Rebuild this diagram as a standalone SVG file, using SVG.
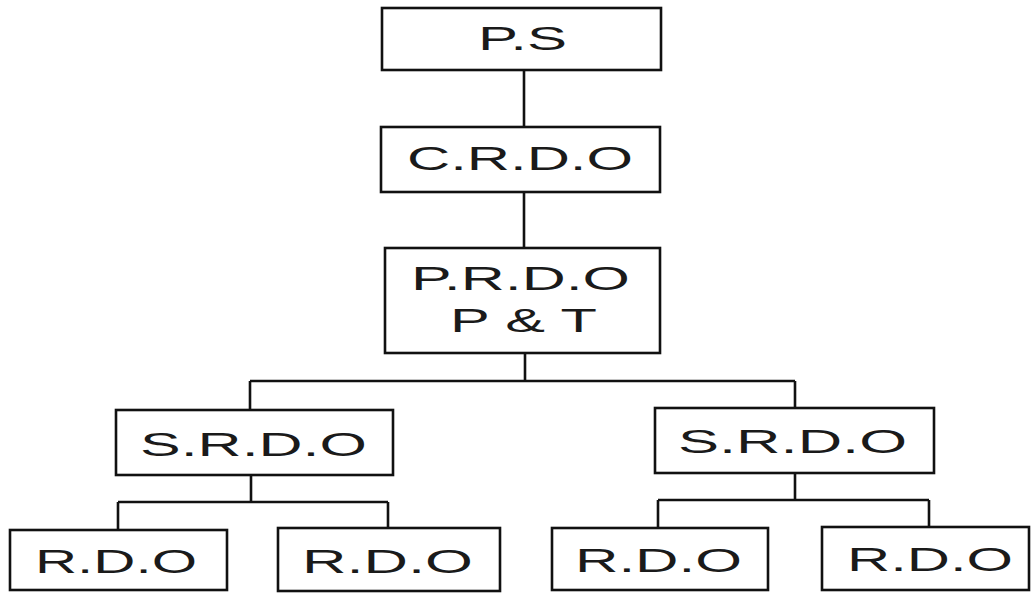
<svg xmlns="http://www.w3.org/2000/svg" width="1034" height="596" viewBox="0 0 1034 596">
<style>
.box{fill:#fff;stroke:#111;stroke-width:2.6}
.ln{fill:none;stroke:#111;stroke-width:2.6}
.t{font-family:"Liberation Sans",Arial,sans-serif;font-size:34px;fill:#1a1a1a}
</style>
<rect width="1034" height="596" fill="#fff"/>
<g id="connectors">
<path class="ln" d="M524 70V127M524 192V248M525 353V381M250 381H795M250 381V410M795 381V408M251 475V502M118 502H388M118 502V530M388 502V528M795 473V500M658 500H929M658 500V528M929 500V527"/>
</g>
<g id="ps"><rect class="box" x="382" y="8" width="279" height="62"/><text class="t" x="478" y="50" textLength="89" lengthAdjust="spacingAndGlyphs">P.S</text></g>
<g id="crdo"><rect class="box" x="381" y="127" width="279" height="65"/><text class="t" x="407" y="170" textLength="226" lengthAdjust="spacingAndGlyphs">C.R.D.O</text></g>
<g id="prdo"><rect class="box" x="385" y="248" width="275" height="105"/><text class="t" x="411" y="290" textLength="219" lengthAdjust="spacingAndGlyphs">P.R.D.O</text><text class="t" x="450" y="332" textLength="147" lengthAdjust="spacingAndGlyphs">P &amp; T</text></g>
<g id="srdo1"><rect class="box" x="116" y="410" width="277" height="65"/><text class="t" x="140" y="456" textLength="227" lengthAdjust="spacingAndGlyphs">S.R.D.O</text></g>
<g id="srdo2"><rect class="box" x="655" y="408" width="279" height="65"/><text class="t" x="678" y="453" textLength="229" lengthAdjust="spacingAndGlyphs">S.R.D.O</text></g>
<g id="rdo1"><rect class="box" x="10" y="530" width="217" height="60"/><text class="t" x="35" y="573" textLength="162" lengthAdjust="spacingAndGlyphs">R.D.O</text></g>
<g id="rdo2"><rect class="box" x="278" y="528" width="222" height="63"/><text class="t" x="302" y="573" textLength="171" lengthAdjust="spacingAndGlyphs">R.D.O</text></g>
<g id="rdo3"><rect class="box" x="552" y="528" width="216" height="62"/><text class="t" x="575" y="572" textLength="167" lengthAdjust="spacingAndGlyphs">R.D.O</text></g>
<g id="rdo4"><rect class="box" x="822" y="527" width="207" height="63"/><text class="t" x="847" y="571" textLength="166" lengthAdjust="spacingAndGlyphs">R.D.O</text></g>
</svg>
